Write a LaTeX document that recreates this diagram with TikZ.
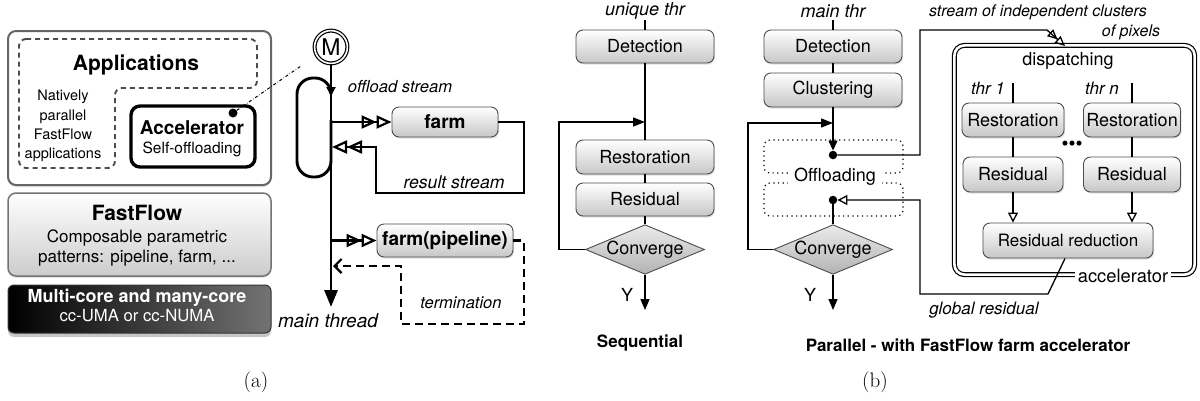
\documentclass[tikz,border=0pt]{standalone}
\usepackage{fontspec}
\newfontfamily\hvfont{TeX Gyre Heros}
\usetikzlibrary{arrows.meta,shapes.geometric,shadows}
\newcommand\hvsz[2]{\hvfont\fontsize{#1}{#2}\selectfont}
\begin{document}
\begin{tikzpicture}[x=1pt,y=-1pt,
  fbox/.style={draw=black!70, line width=0.9pt, rounded corners=7pt, top color=white, bottom color=black!22,
    drop shadow={opacity=0.25,shadow xshift=1pt,shadow yshift=-1.5pt}, inner sep=0pt, font=\hvsz{18}{20}},
  ln/.style={line width=1.3pt, black},
  hl/.style={line width=2.9pt, black},
  dopen/.style={-{Triangle[open,length=15pt,width=13pt,line width=2.2pt]Triangle[open,length=15pt,width=13pt,line width=2.2pt]}},
  fillarr/.style={-{Triangle[length=11pt,width=9pt]}},
  openarr/.style={-{Triangle[open,length=10pt,width=10pt]}},
  conv/.style={diamond, aspect=2.4, draw=black!70, line width=0.9pt, top color=black!8, bottom color=black!30,
    minimum width=118pt, minimum height=49pt, inner sep=0pt, font=\hvsz{18}{20}},
  blob/.style={circle, fill=black, inner sep=0pt, minimum size=9pt},
  dotbox/.style={line width=1.2pt, dash pattern=on 1.2pt off 3.5pt, rounded corners=6pt}
]
\useasboundingbox (0,0) rectangle (1200,400);

% ---------------- (a) layer stack ----------------
\node[draw=black!60, line width=2pt, rounded corners=8pt, fill=white, minimum width=263pt, minimum height=154pt,
  drop shadow={opacity=0.2,shadow xshift=0pt,shadow yshift=-2pt}] (apps) at (139.5,108) {};
\draw[black!70, line width=1.9pt, dash pattern=on 5pt off 4pt, rounded corners=7pt]
  (19,39) -- (257,39) -- (257,88) -- (115,88) -- (115,168) -- (19,168) -- cycle;
\node[font=\hvsz{21}{24}\bfseries] (appt) at (136,65) {Applications};
\node[font=\hvsz{14.5}{19.3}, align=center] (nat) at (63,126) {Natively\\parallel\\FastFlow\\applications};
\node[draw=black, line width=3.4pt, rounded corners=9pt, fill=white, minimum width=124pt, minimum height=61pt] (accb) at (193,136.5) {};
\node[font=\hvsz{19}{22}\bfseries] (acct) at (192,128) {Accelerator};
\node[font=\hvsz{15.5}{18}] (accs) at (192,149) {Self-offloading};
\node[blob] (adot) at (233,113) {};

\node[draw=black!55, line width=1.5pt, rounded corners=8pt, top color=white, bottom color=black!20, minimum width=263pt, minimum height=83pt,
  drop shadow={opacity=0.2,shadow xshift=0pt,shadow yshift=-2pt}] (ffb) at (139.5,234.5) {};
\node[font=\hvsz{21}{24}\bfseries] (fft) at (137,213) {FastFlow};
\node[font=\hvsz{17}{20}] (ff1) at (137,238) {Composable parametric};
\node[font=\hvsz{17}{20}] (ff2) at (137,258) {patterns: pipeline, farm, ...};

\node[draw=black!80, line width=1pt, rounded corners=6pt, left color=black, right color=black!55, minimum width=263pt, minimum height=48pt,
  drop shadow={opacity=0.45,shadow xshift=0pt,shadow yshift=-4pt}] (mcb) at (139.5,309) {};
\node[font=\hvsz{18}{20}\bfseries, text=white] (mc1) at (137,298) {Multi-core and many-core};
\node[font=\hvsz{16.7}{20}, text=white] (mc2) at (137,316) {cc-UMA or cc-NUMA};
\node[font=\fontsize{21}{24}\selectfont] (capa) at (256,382) {(a)};

% ---------------- (a) main thread ----------------
\node[circle, draw, double, double distance=1.6pt, line width=1.2pt, minimum size=32.8pt, inner sep=0pt, fill=white,
  font=\hvsz{23}{24}] (M) at (331,47) {M};
\coordinate (mend) at (331,307);
\draw[hl, -{Triangle[length=17pt,width=13pt]}] (M.south) -- (mend);
\draw[hl, rounded corners=16pt, -{Triangle[length=9pt,width=9pt]}]
  (331,120) -- (331,177) -- (297,177) -- (297,78) -- (331,78) -- (331,96);
\coordinate (ddend) at (301,66);
\draw[dash dot, line width=1pt] (adot) -- (ddend);

\node[font=\hvsz{16.6}{20}\itshape] (ost) at (400,87) {offload stream};
\coordinate (o1) at (331,122);
\node[fbox, minimum width=106pt, minimum height=30pt, font=\hvsz{19}{20}\bfseries] (farm) at (445,122) {farm};
\draw[hl, dopen] (o1) -- (farm.west);
\coordinate (r1) at (332,147);
\draw[hl, dopen] (farm.east) -- (524,122) -- (524,193) -- (376,193) -- (376,147) -- (r1);
\node[font=\hvsz{17.6}{20}\itshape] (rst) at (454,182) {result stream};

\coordinate (o2) at (331,240.5);
\node[fbox, minimum width=136pt, minimum height=33pt, font=\hvsz{19}{20}\bfseries] (fp) at (445,240.5) {farm(pipeline)};
\draw[hl, dopen] (o2) -- (fp.west);
\coordinate (term) at (333,266);
\draw[line width=2.5pt, dash pattern=on 8pt off 5pt, -{Straight Barb[length=7pt,width=14pt,line width=2.2pt]}]
  (fp.east) -- (524,240.5) -- (524,324) -- (401,324) -- (401,266) -- (term);
\node[font=\hvsz{16.5}{20}\itshape] (termt) at (461,303) {termination};
\node[font=\hvsz{19}{22}\itshape] (mtt) at (328,321) {main thread};

% ---------------- (b) sequential ----------------
\node[font=\hvsz{18}{20}\itshape] (sut) at (645,11) {unique thr};
\coordinate (s0) at (645,20);
\node[fbox, minimum width=138pt, minimum height=33pt] (sdet) at (645,46.5) {Detection};
\node[fbox, minimum width=138pt, minimum height=34pt] (srest) at (645,157) {Restoration};
\node[fbox, minimum width=138pt, minimum height=33pt] (sresi) at (645,199.5) {Residual};
\node[conv] (sconv) at (645,249.5) {Converge};
\coordinate (sj) at (645,122);
\coordinate (send) at (645,310);
\draw[ln] (s0) -- (sdet.north);
\draw[ln] (sdet.south) -- (srest.north);
\draw[ln] (srest.south) -- (sresi.north);
\draw[ln] (sresi.south) -- (sconv.north);
\draw[ln, -{Triangle[length=12pt,width=9pt]}] (sconv.west) -- (559,249.5) -- (559,122) -- (sj);
\draw[ln, fillarr] (sconv.south) -- (send);
\node[font=\hvsz{18}{20}] (sy) at (627,295) {Y};
\node[font=\hvsz{17}{20}\bfseries] (seqc) at (640,343) {Sequential};

% ---------------- (b) parallel ----------------
\node[font=\hvsz{18}{20}\itshape] (pmt) at (833,11) {main thr};
\coordinate (p0) at (833,20);
\node[fbox, minimum width=138pt, minimum height=33pt] (pdet) at (833,46.5) {Detection};
\node[fbox, minimum width=138pt, minimum height=34pt] (pclu) at (833,90) {Clustering};
\draw[dotbox] (764,140) rectangle (903,173);
\draw[dotbox] (764,183) rectangle (903,216);
\node[fill=white, inner xsep=6pt, inner ysep=2pt, font=\hvsz{18}{20}] (offl) at (835,177) {Offloading};
\node[blob, minimum size=8.5pt] (d1) at (833,155) {};
\node[blob, minimum size=8.5pt] (d2) at (833,200) {};
\node[conv] (pconv) at (833,249.5) {Converge};
\coordinate (pj) at (833,123);
\coordinate (pend) at (833,310);
\draw[ln] (p0) -- (pdet.north);
\draw[ln] (pdet.south) -- (pclu.north);
\draw[ln, -{Triangle[length=10pt,width=9pt]}] (pclu.south) -- (d1.north);
\draw[ln, -{Triangle[length=12pt,width=9pt]}] (pconv.west) -- (748,249.5) -- (748,123) -- (pj);
\draw[ln] (d2.south) -- (pconv.north);
\draw[ln, fillarr] (pconv.south) -- (pend);
\node[font=\hvsz{18}{20}] (py) at (810,295) {Y};

% accelerator
\node[draw, double, double distance=2.6pt, line width=1.2pt, rounded corners=10pt, minimum width=240.2pt, minimum height=229.2pt,
  inner sep=0pt] (accel) at (1074.5,160) {};
\node[fill=white, font=\hvsz{18.3}{20}, inner sep=3pt] (acclab) at (1123,276) {accelerator};
\node[font=\hvsz{18}{20}] (disp) at (1068,61) {dispatching};
\node[font=\hvsz{17}{20}\itshape] (th1) at (988,88) {thr 1};
\node[font=\hvsz{17}{20}\itshape] (thn) at (1102,88) {thr n};
\coordinate (t1a) at (1013,83);
\coordinate (tna) at (1132,83);
\node[fbox, minimum width=102pt, minimum height=34pt] (ar1) at (1013,120) {Restoration};
\node[fbox, minimum width=97pt, minimum height=34pt] (arn) at (1132,120) {Restoration};
\node[fbox, minimum width=100pt, minimum height=35pt] (as1) at (1013,174.5) {Residual};
\node[fbox, minimum width=97pt, minimum height=35pt] (asn) at (1132,174.5) {Residual};
\node[fbox, minimum width=170pt, minimum height=35pt, font=\hvsz{17}{20}] (rr) at (1068,240.5) {Residual reduction};
\node[font=\hvsz{20}{20}] (dots) at (1072,146) {\textbullet\textbullet\textbullet};
\draw[ln] (t1a) -- (ar1.north);
\draw[ln] (tna) -- (arn.north);
\draw[ln] (ar1.south) -- (as1.north);
\draw[ln] (arn.south) -- (asn.north);
\draw[ln, openarr] (as1.south) -- (as1.south |- rr.north);
\draw[ln, openarr] (asn.south) -- (asn.south |- rr.north);

% streams
\coordinate (accin) at (1065,46);
\draw[ln, -{Triangle[open,length=10pt,width=9pt]Triangle[open,length=10pt,width=9pt]}]
  (d1.east) -- (920,155) -- (920,30) -- (1047,30) -- (accin);
\draw[ln, openarr] ([xshift=-3pt]rr.south) -- (1048,294) -- (920,294) -- (920,200) -- (d2.east);
\node[font=\hvsz{16}{20}\itshape] (stt) at (1038,12) {stream of independent clusters};
\node[font=\hvsz{16}{20}\itshape] (stt2) at (1131,32) {of pixels};
\node[font=\hvsz{17}{20}\itshape] (gres) at (984,310) {global residual};
\node[font=\hvsz{17}{20}\bfseries] (parc) at (968,345) {Parallel - with FastFlow farm accelerator};
\node[font=\fontsize{21}{24}\selectfont] (capb) at (875,382) {(b)};
\end{tikzpicture}
\end{document}
